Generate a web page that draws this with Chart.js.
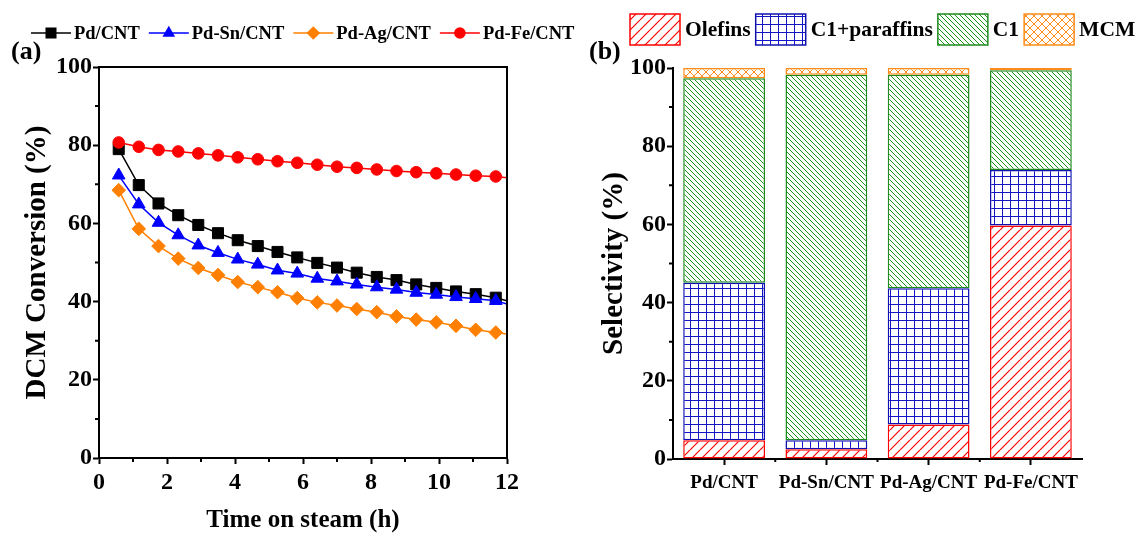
<!DOCTYPE html>
<html><head><meta charset="utf-8">
<script src="https://cdn.jsdelivr.net/npm/chart.js@4.4.0/dist/chart.umd.min.js"></script>
<style>
html,body{margin:0;padding:0;background:#fff;width:1138px;height:533px;overflow:hidden}
#ca{position:absolute;left:0;top:0}
#cb{position:absolute;left:570px;top:0}
</style></head><body>
<canvas id="ca" width="600" height="533"></canvas>
<canvas id="cb" width="568" height="533"></canvas>
<script>
// ---------- data: panel (a) ----------
const hours = [0.58,1.17,1.75,2.33,2.92,3.5,4.08,4.67,5.25,5.83,6.42,7.0,7.58,8.17,8.75,9.33,9.92,10.5,11.08,11.67];
const convPd   = [79.0,69.8,65.1,62.1,59.6,57.5,55.7,54.2,52.7,51.3,49.9,48.7,47.4,46.3,45.5,44.4,43.5,42.6,41.9,41.0];
const convPdSn = [72.3,64.9,60.2,57.0,54.4,52.5,50.8,49.5,48.0,47.2,45.9,45.2,44.4,43.7,43.1,42.3,41.8,41.2,40.7,40.2];
const convPdAg = [68.5,58.6,54.2,51.0,48.6,46.8,45.0,43.7,42.4,40.9,39.8,39.0,38.1,37.3,36.2,35.4,34.7,33.8,32.8,32.1];
const convPdFe = [80.7,79.6,78.8,78.4,77.9,77.4,76.9,76.4,75.9,75.5,75.0,74.5,74.2,73.8,73.4,73.1,72.8,72.5,72.2,72.0];
const lineEndHour = 12;
const lineEndValues = [40.2, 39.4, 31.7, 71.7];
const seriesNames = ['Pd/CNT','Pd-Sn/CNT','Pd-Ag/CNT','Pd-Fe/CNT'];

// ---------- data: panel (b) ----------
const catalysts = ['Pd/CNT','Pd-Sn/CNT','Pd-Ag/CNT','Pd-Fe/CNT'];
const selOlefins = [4.8, 2.5, 8.8, 59.7];
const selC1Paraffins = [40.3, 2.3, 34.9, 14.2];
const selC1 = [52.3, 93.5, 54.6, 25.5];
const selMCM = [2.6, 1.7, 1.7, 0.6];
const productNames = ['Olefins','C1+paraffins','C1','MCM'];

// ---------- styles ----------
const FONT = '"Liberation Serif", "Times New Roman", serif';
Chart.defaults.font.family = FONT;
Chart.defaults.font.weight = 'bold';
Chart.defaults.color = '#000';

const lineStyles = [
  {color:'#000000', style:'rect', r:7.8},
  {color:'#0000FF', style:'triangle', r:7.3},
  {color:'#FF8000', style:'rectRot', r:6.8},
  {color:'#FF0000', style:'circle', r:5.8}
];

function makePattern(size, color, width, draw) {
  const c = document.createElement('canvas');
  c.width = size; c.height = size;
  const g = c.getContext('2d');
  g.fillStyle = '#ffffff'; g.fillRect(0,0,size,size);
  g.strokeStyle = color; g.lineWidth = width;
  draw(g, size);
  return g.createPattern(c, 'repeat');
}
const patOlefins = makePattern(10, '#FF0000', 1.2, (g,s)=>{
  g.beginPath();
  for (let k=-1;k<=1;k++){ g.moveTo(k*s, s); g.lineTo(k*s+s, 0); }
  g.stroke();
});
const patC1Par = makePattern(8, '#1414C8', 1, (g,s)=>{
  g.beginPath(); g.moveTo(0.5,0); g.lineTo(0.5,s); g.moveTo(0,0.5); g.lineTo(s,0.5); g.stroke();
});
const patC1 = makePattern(5, '#1A961A', 1, (g,s)=>{
  g.beginPath();
  for (let k=-1;k<=1;k++){ g.moveTo(k*s, 0); g.lineTo(k*s+s, s); }
  g.stroke();
});
const patMCM = makePattern(8, '#FF8C1A', 1, (g,s)=>{
  g.beginPath();
  for (let k=-1;k<=1;k++){ g.moveTo(k*s, s); g.lineTo(k*s+s, 0); g.moveTo(k*s,0); g.lineTo(k*s+s,s); }
  g.stroke();
});
const barStyles = [
  {bg:patOlefins, border:'#FF0000'},
  {bg:patC1Par, border:'#1010B0'},
  {bg:patC1, border:'#1E8A1E'},
  {bg:patMCM, border:'#FF8C1A'}
];

function markerPath(ctx, style, r, x, y) {
  ctx.beginPath();
  if (style === 'rect') { const s = r*Math.SQRT1_2; ctx.rect(x-s, y-s, 2*s, 2*s); }
  else if (style === 'triangle') {
    ctx.moveTo(x, y - r);
    ctx.lineTo(x + r*Math.cos(Math.PI/6), y + r*0.5);
    ctx.lineTo(x - r*Math.cos(Math.PI/6), y + r*0.5);
    ctx.closePath();
  } else if (style === 'rectRot') {
    ctx.moveTo(x, y-r); ctx.lineTo(x+r, y); ctx.lineTo(x, y+r); ctx.lineTo(x-r, y); ctx.closePath();
  } else { ctx.arc(x, y, r, 0, Math.PI*2); }
}

function minorTicks(ctx, scale, values, len, horizontal) {
  ctx.save(); ctx.strokeStyle = '#000'; ctx.lineWidth = 2; ctx.beginPath();
  values.forEach(v => {
    const p = scale.getPixelForValue(v);
    if (horizontal) { ctx.moveTo(p, scale.top); ctx.lineTo(p, scale.top + len); }
    else { ctx.moveTo(scale.right, p); ctx.lineTo(scale.right - len, p); }
  });
  ctx.stroke(); ctx.restore();
}

// ---------- panel (a) ----------
const convSeries = [convPd, convPdSn, convPdAg, convPdFe];
const lineDatasets = convSeries.map((vals, i) => ({
  label: seriesNames[i],
  data: hours.map((h, j) => ({x: h, y: vals[j]})).concat([{x: lineEndHour, y: lineEndValues[i]}]),
  borderColor: lineStyles[i].color,
  backgroundColor: lineStyles[i].color,
  borderWidth: 1.5,
  pointStyle: lineStyles[i].style,
  pointRadius: c => c.dataIndex < hours.length ? lineStyles[i].r : 0,
  pointBorderWidth: 1,
  pointBackgroundColor: lineStyles[i].color,
  pointBorderColor: lineStyles[i].color,
  tension: 0,
  order: 4 - i
}));

const panelAPlugin = {
  id: 'panelA',
  afterDraw(chart) {
    const {ctx, chartArea: a, scales} = chart;
    ctx.save();
    ctx.strokeStyle = '#000'; ctx.lineWidth = 2;
    ctx.beginPath();
    ctx.moveTo(a.left, a.top); ctx.lineTo(a.right, a.top); ctx.lineTo(a.right, a.bottom);
    ctx.stroke();
    ctx.restore();
    minorTicks(ctx, scales.x, [1,3,5,7,9,11], 4, true);
    minorTicks(ctx, scales.y, [10,30,50,70,90], 4, false);
    // legend
    ctx.save();
    ctx.font = 'bold 18.5px ' + FONT;
    ctx.textBaseline = 'middle'; ctx.textAlign = 'left';
    let x = 31; const y = 33;
    chart.data.datasets.forEach((ds, i) => {
      const st = lineStyles[i];
      ctx.strokeStyle = ds.borderColor; ctx.lineWidth = 1.5;
      ctx.beginPath(); ctx.moveTo(x, y); ctx.lineTo(x + 40, y); ctx.stroke();
      ctx.fillStyle = ds.borderColor;
      markerPath(ctx, st.style, st.r, x + 20, y); ctx.fill();
      ctx.fillStyle = '#000';
      ctx.fillText(ds.label, x + 43, y + 1);
      x += 43 + ctx.measureText(ds.label).width + 9;
    });
    ctx.font = 'bold 26px ' + FONT;
    ctx.fillText('(a)', 11, 52);
    ctx.restore();
  }
};

new Chart(document.getElementById('ca'), {
  type: 'line',
  data: {datasets: lineDatasets},
  options: {
    responsive: false, animation: false, devicePixelRatio: 1,
    layout: {padding: {left: 0, top: 67, right: 93, bottom: 0}},
    plugins: {legend: {display: false}, tooltip: {enabled: false}},
    scales: {
      x: {
        type: 'linear', min: 0, max: 12,
        ticks: {stepSize: 2, font: {size: 24, weight: 'bold'}, color: '#000', padding: 4, maxRotation: 0, autoSkip: false},
        grid: {drawOnChartArea: false, drawTicks: true, tickLength: 6, tickWidth: 2, tickColor: '#000'},
        border: {display: true, color: '#000', width: 2},
        title: {display: true, text: 'Time on steam (h)', color: '#000', font: {size: 25, weight: 'bold', lineHeight: 1}, padding: {top: 0, bottom: 0}},
        afterFit(s) { s.height = 75; }
      },
      y: {
        min: 0, max: 100,
        ticks: {stepSize: 20, font: {size: 24, weight: 'bold'}, color: '#000', padding: 1},
        grid: {drawOnChartArea: false, drawTicks: true, tickLength: 6, tickWidth: 2, tickColor: '#000'},
        border: {display: true, color: '#000', width: 2},
        title: {display: true, text: 'DCM Conversion (%)', color: '#000', font: {size: 29, weight: 'bold', lineHeight: 1}, padding: {top: 23, bottom: 0}},
        afterFit(s) { s.width = 99; }
      }
    }
  },
  plugins: [panelAPlugin]
});

// ---------- panel (b) ----------
const selSeries = [selOlefins, selC1Paraffins, selC1, selMCM];
const barDatasets = selSeries.map((vals, i) => ({
  label: productNames[i],
  data: vals,
  backgroundColor: barStyles[i].bg,
  borderColor: barStyles[i].border,
  borderWidth: 1.5,
  borderSkipped: false,
  categoryPercentage: 1,
  barPercentage: 0.8
}));

const panelBPlugin = {
  id: 'panelB',
  afterDraw(chart) {
    const {ctx, scales} = chart;
    minorTicks(ctx, scales.y, [10,30,50,70,90], 4, false);
    const xs = scales.x;
    ctx.save(); ctx.strokeStyle = '#000'; ctx.lineWidth = 2; ctx.beginPath();
    for (let i = 1; i < catalysts.length; i++) {
      const p = (xs.getPixelForValue(i - 1) + xs.getPixelForValue(i)) / 2;
      ctx.moveTo(p, xs.top); ctx.lineTo(p, xs.top + 3);
    }
    ctx.stroke(); ctx.restore();
    // legend
    ctx.save();
    ctx.font = 'bold 21.5px ' + FONT;
    ctx.textBaseline = 'middle'; ctx.textAlign = 'left';
    let x = 60; const y0 = 14, bw = 50, bh = 31;
    chart.data.datasets.forEach(ds => {
      ctx.fillStyle = ds.backgroundColor;
      ctx.fillRect(x, y0, bw, bh);
      ctx.strokeStyle = ds.borderColor; ctx.lineWidth = 1.5;
      ctx.strokeRect(x, y0, bw, bh);
      ctx.fillStyle = '#000';
      ctx.fillText(ds.label, x + bw + 5, y0 + bh / 2 + 1);
      x += bw + 5 + ctx.measureText(ds.label).width + 5;
    });
    ctx.font = 'bold 26px ' + FONT;
    ctx.fillText('(b)', 19, 52);
    ctx.restore();
  }
};

new Chart(document.getElementById('cb'), {
  type: 'bar',
  data: {labels: catalysts, datasets: barDatasets},
  options: {
    responsive: false, animation: false, devicePixelRatio: 1,
    layout: {padding: {left: 0, top: 68, right: 56, bottom: 0}},
    plugins: {legend: {display: false}, tooltip: {enabled: false}},
    scales: {
      x: {
        stacked: true,
        ticks: {font: {size: 19, weight: 'bold'}, color: '#000', padding: 7, maxRotation: 0, autoSkip: false},
        grid: {offset: false, drawOnChartArea: false, drawTicks: true, tickLength: 6, tickWidth: 2, tickColor: '#000'},
        border: {display: true, color: '#000', width: 2},
        afterFit(s) { s.height = 74; }
      },
      y: {
        stacked: true, min: 0, max: 100,
        ticks: {stepSize: 20, font: {size: 24, weight: 'bold'}, color: '#000', padding: 1},
        grid: {drawOnChartArea: false, drawTicks: true, tickLength: 6, tickWidth: 2, tickColor: '#000'},
        border: {display: true, color: '#000', width: 2},
        title: {display: true, text: 'Selectivity (%)', color: '#000', font: {size: 29, weight: 'bold', lineHeight: 1}, padding: {top: 30, bottom: 0}},
        afterFit(s) { s.width = 103; }
      }
    }
  },
  plugins: [panelBPlugin]
});
</script>
</body></html>
